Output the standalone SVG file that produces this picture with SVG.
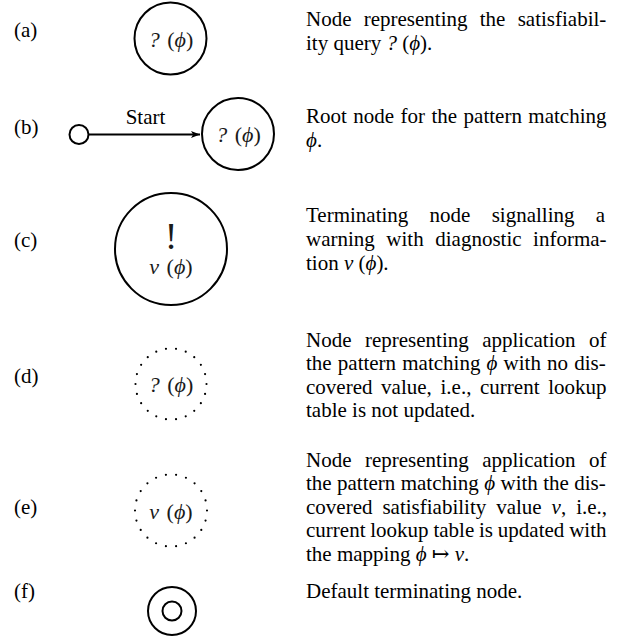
<svg xmlns="http://www.w3.org/2000/svg" width="628" height="640" viewBox="0 0 628 640">
<style>
  text { font-family: "Liberation Serif", "DejaVu Serif", serif; font-size: 21px; fill: #000; }
  .i { font-style: italic; }
  .nt { text-anchor: middle; fill: #1a1a1a; font-size: 22px; word-spacing: 2px; }
  .solid { fill: none; stroke: #000; stroke-width: 2; }
  .dots { fill: none; stroke: #000; stroke-width: 2.2; stroke-linecap: round; stroke-dasharray: 0 1; }
  .conn { stroke: #000; stroke-width: 1.8; fill: none; }
</style>
<defs>
  <marker id="arrow" markerUnits="userSpaceOnUse" markerWidth="12" markerHeight="10" refX="9" refY="4" orient="auto">
    <path d="M0,0.5 L9,4 L0,7.5 L2.2,4 Z" fill="#000"/>
  </marker>
</defs>

<g id="labels">
  <text x="14" y="37">(a)</text>
  <text x="14" y="134">(b)</text>
  <text x="14" y="247">(c)</text>
  <text x="14" y="383">(d)</text>
  <text x="14" y="514">(e)</text>
  <text x="14" y="598">(f)</text>
</g>

<g id="node-a">
  <circle class="solid" cx="170.5" cy="38.5" r="36"/>
  <text class="nt" x="171" y="46.5"><tspan class="i">?</tspan> (<tspan class="i">ϕ</tspan>)</text>
</g>

<g id="node-b-start">
  <circle class="solid" cx="79" cy="134.5" r="9.5"/>
</g>
<g id="node-b">
  <circle class="solid" cx="238" cy="134" r="36"/>
  <text class="nt" x="238.5" y="142"><tspan class="i">?</tspan> (<tspan class="i">ϕ</tspan>)</text>
</g>

<g id="connectors">
  <line class="conn" x1="88.5" y1="134.5" x2="200" y2="134.5" marker-end="url(#arrow)"/>
  <text x="145.5" y="124" text-anchor="middle">Start</text>
</g>

<g id="node-c">
  <circle class="solid" cx="171" cy="249" r="56"/>
  <text class="nt" x="171" y="249" style="font-size:38px">!</text>
  <text class="nt" x="171" y="274"><tspan class="i">ν</tspan> (<tspan class="i">ϕ</tspan>)</text>
</g>

<g id="node-d">
  <circle class="dots" cx="171" cy="384" r="35.5" pathLength="22"/>
  <text class="nt" x="171" y="392"><tspan class="i">?</tspan> (<tspan class="i">ϕ</tspan>)</text>
</g>

<g id="node-e">
  <circle class="dots" cx="171" cy="510.5" r="36" pathLength="22"/>
  <text class="nt" x="171" y="519"><tspan class="i">ν</tspan> (<tspan class="i">ϕ</tspan>)</text>
</g>

<g id="node-f">
  <circle class="solid" cx="172" cy="611" r="24"/>
  <circle class="solid" cx="172" cy="611" r="9.5"/>
</g>

<g id="descriptions">
  <text x="306" y="26" word-spacing="7">Node representing the satisfiabil-</text>
  <text x="306" y="50">ity query <tspan class="i">?</tspan> (<tspan class="i">ϕ</tspan>).</text>

  <text x="306" y="123" word-spacing="1.2">Root node for the pattern matching</text>
  <text x="306" y="147"><tspan class="i">ϕ</tspan>.</text>

  <text x="306" y="222" word-spacing="16">Terminating node signalling a</text>
  <text x="306" y="246" word-spacing="6.3">warning with diagnostic informa-</text>
  <text x="306" y="270">tion <tspan class="i">ν</tspan> (<tspan class="i">ϕ</tspan>).</text>

  <text x="306" y="346.5" word-spacing="8.2">Node representing application of</text>
  <text x="306" y="370" word-spacing="0.9">the pattern matching <tspan class="i">ϕ</tspan> with no dis-</text>
  <text x="306" y="393.5" word-spacing="3.4">covered value, i.e., current lookup</text>
  <text x="306" y="417">table is not updated.</text>

  <text x="306" y="466.5" word-spacing="8.2">Node representing application of</text>
  <text x="306" y="490" word-spacing="0.13">the pattern matching <tspan class="i">ϕ</tspan> with the dis-</text>
  <text x="306" y="513.5" word-spacing="4.7">covered satisfiability value <tspan class="i">ν</tspan>, i.e.,</text>
  <text x="306" y="537" word-spacing="-0.44">current lookup table is updated with</text>
  <text x="306" y="560.5">the mapping <tspan class="i">ϕ</tspan> ↦ <tspan class="i">ν</tspan>.</text>

  <text x="306" y="598">Default terminating node.</text>
</g>
</svg>
